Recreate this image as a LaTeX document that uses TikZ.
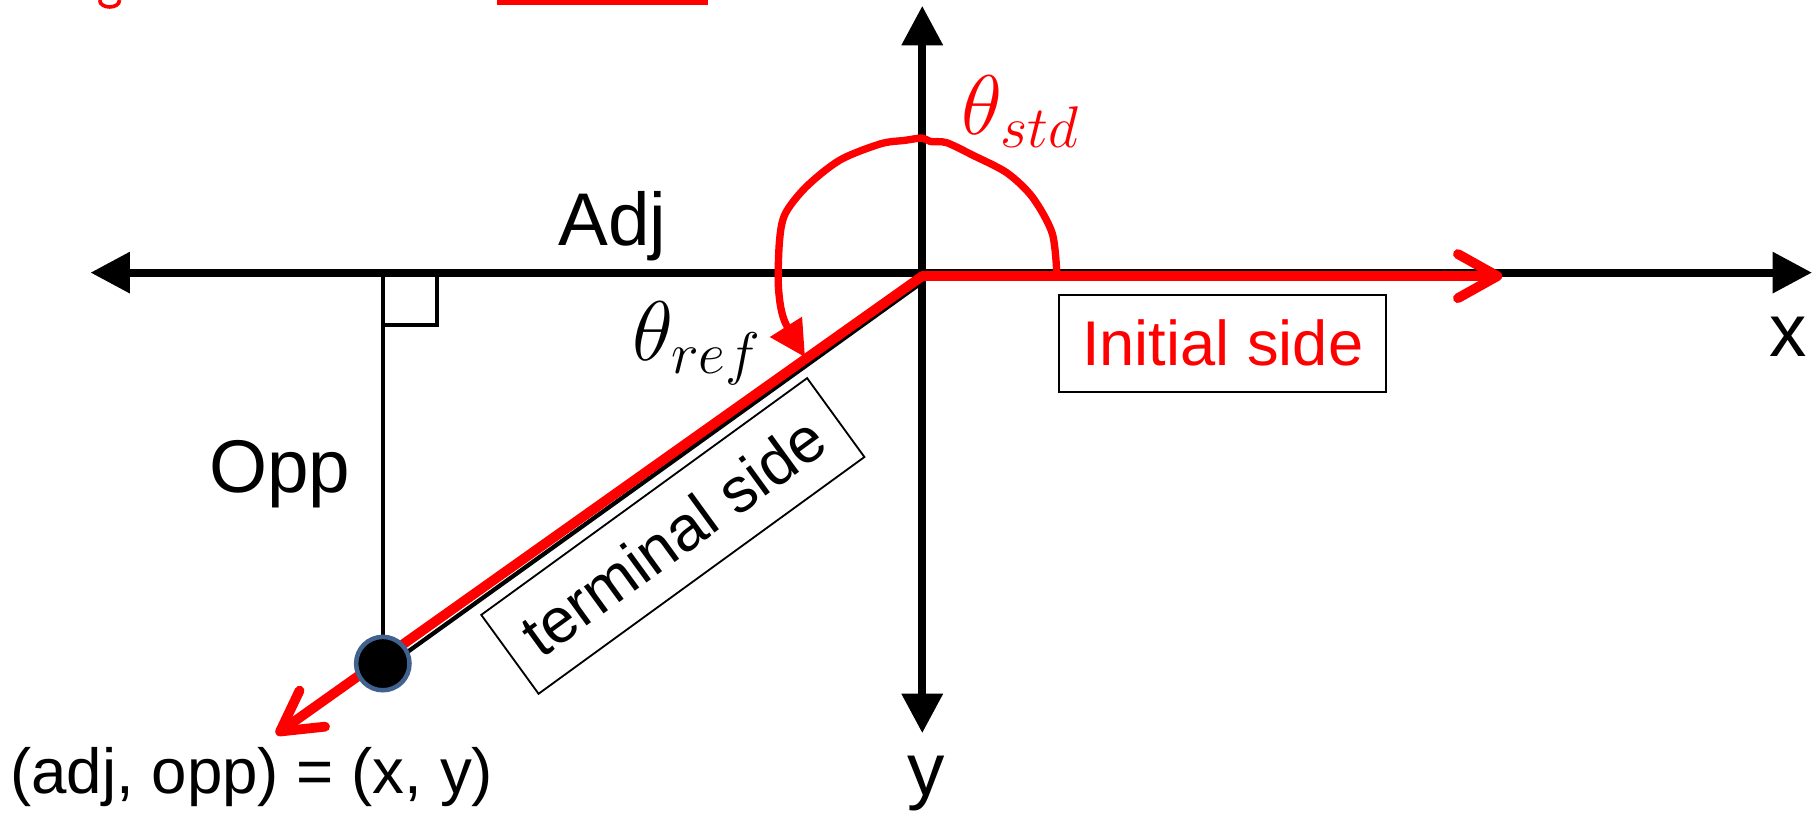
\documentclass[tikz,border=0pt]{standalone}
\usepackage{fontspec}
\setmainfont{Liberation Sans}
\usetikzlibrary{arrows.meta,positioning}
\definecolor{signred}{HTML}{FF0000}
\definecolor{dotrim}{HTML}{41628E}
\tikzset{
  axis/.style={line width=2pt, draw=black, {Triangle[length=3.4mm,width=3.4mm]}-{Triangle[length=3.4mm,width=3.4mm]}},
  redside/.style={line width=2.4pt, draw=signred, line cap=round, -{Straight Barb[length=3.4mm,width=3.8mm,round]}},
  redarc/.style={line width=1.8pt, draw=signred, line join=round, -{Triangle[length=3.1mm,width=3.1mm]}},
  thinln/.style={line width=1.05pt, draw=black},
  ptdot/.style={circle, fill=black, draw=dotrim, line width=1.1pt, minimum size=4.6mm, inner sep=0pt},
  lbl/.style={inner sep=0pt, font=\fontsize{18.3}{20}\selectfont},
  smlbl/.style={inner sep=0pt, font=\fontsize{15.6}{18}\selectfont},
  sidebox/.style={draw=black, line width=.45pt, fill=white, inner sep=0pt, font=\fontsize{15.5}{18}\selectfont},
  anglbl/.style={inner sep=0pt, font=\fontsize{20.5}{22}\selectfont},
}
\begin{document}
\begin{tikzpicture}[x=0.01cm, y=-0.01cm]
  \useasboundingbox (0,0) rectangle (1568,700);
  % clipped title remains
  \fill[signred] (428,0) rectangle (610,4);
  \draw[signred, line width=.9pt] (86,0) .. controls (86,8) and (103,8) .. (103,0);
  % axes
  \coordinate (O) at (795,235);
  \coordinate (Or) at (795,238);
  \coordinate (xneg) at (78,235);
  \coordinate (xpos) at (1562,235);
  \coordinate (ypos) at (795,5);
  \coordinate (yneg) at (795,632);
  \draw[axis] (xneg) -- (xpos);
  \draw[axis] (ypos) -- (yneg);
  % triangle
  \coordinate (P) at (330,572);
  \coordinate (foot) at (330,235);
  \draw[thinln] (foot) -- (P);
  \draw[thinln] (foot) rectangle (377,280);
  \draw[thinln] ([yshift=-1.5pt]Or) -- ([yshift=-1.5pt]P);
  % sides
  \coordinate (ini) at (1295,238);
  \coordinate (term) at (238,633);
  \draw[redside] (Or) -- (ini);
  \draw[redside] (Or) -- (term);
  \node[ptdot] (pt) at (P) {};
  % angle
  \draw[redarc] plot[smooth] coordinates {(911,236) (907,201) (890,170) (868,149) (839,134) (816,123) (802,122) (795,119) (780,121) (759,124) (724,138) (695,161) (677,184) (672,207) (671,247) (676,276) (694,308)};
  % labels
  \node[lbl] (adj) at (528,195) {Adj};
  \node[lbl] (opp) at (241,409) {Opp};
  \node[lbl] (xlab) at (1541,290) {x};
  \node[lbl] (ylab) at (798,675) {y};
  \node[smlbl] (pair) at (217,670) {(adj, opp) = (x, y)};
  \node[anglbl, text=signred] (tstd) at (880,96) {$\theta_{std}$};
  \node[anglbl] (tref) at (601,296) {$\theta_{ref}$};
  \node[sidebox, text=signred, minimum width=2.82cm, minimum height=.84cm] (inibox) at (1054,296) {Initial side};
  \node[sidebox, rotate=36, minimum width=3.47cm, minimum height=.84cm] (termbox) at (580,462) {terminal side};
\end{tikzpicture}
\end{document}
